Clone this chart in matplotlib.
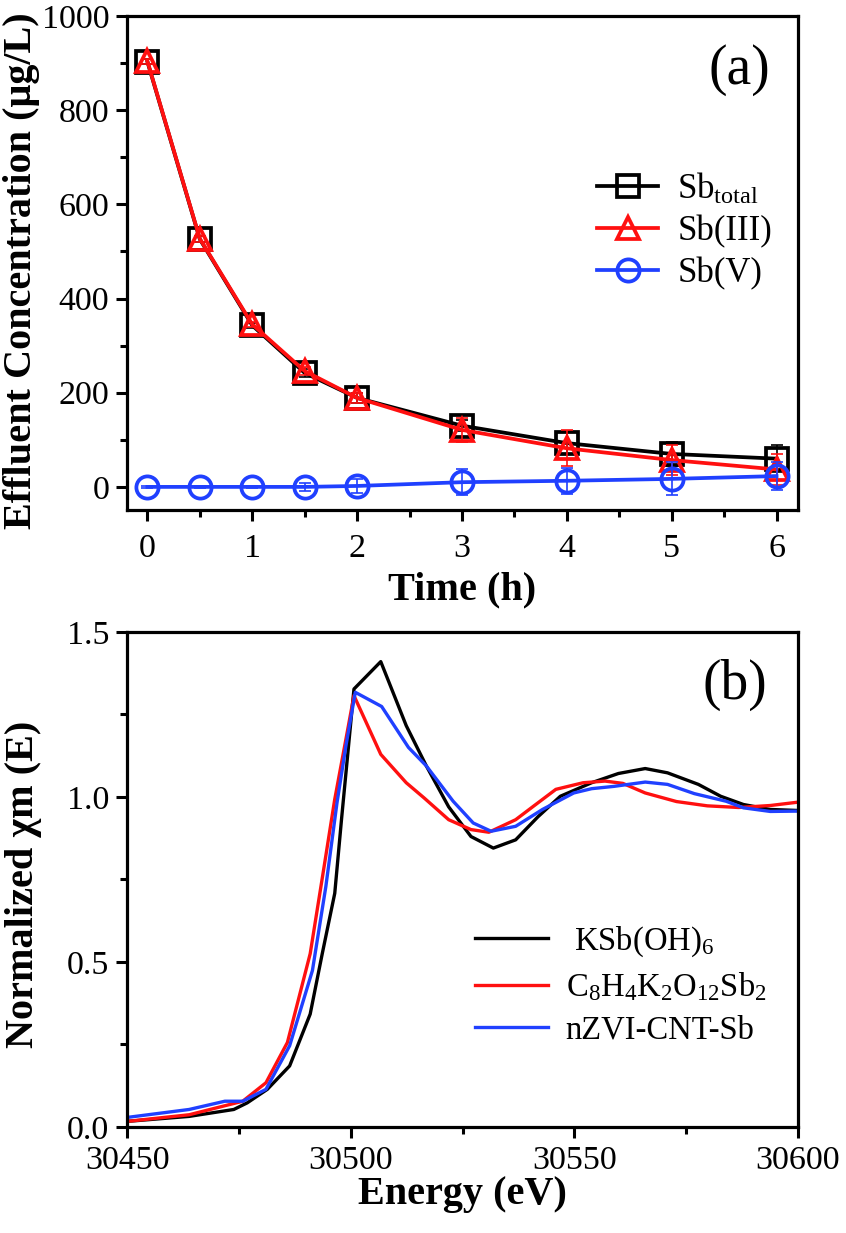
import matplotlib
matplotlib.use("Agg")
import matplotlib.pyplot as plt
import numpy as np

plt.rcParams['font.family'] = ['Liberation Serif', 'DejaVu Serif']
plt.rcParams['mathtext.fontset'] = 'custom'
plt.rcParams['mathtext.rm'] = 'Liberation Serif'
plt.rcParams['mathtext.it'] = 'Liberation Serif:italic'
plt.rcParams['mathtext.bf'] = 'Liberation Serif:bold'

# panel (a) data
time_h = [0, 0.5, 1, 1.5, 2, 3, 4, 5, 6]
sb_total = [903, 526, 343, 242, 189, 130, 93, 70, 60]
sb_total_err = [5, 6, 6, 8, 10, 12, 23, 25, 28]
sb_iii = [904, 527, 345, 246, 189, 121, 82, 57, 37]
sb_iii_err = [5, 6, 6, 8, 10, 26, 38, 32, 32]
sb_v = [0, 0, 0, 0, 2, 10, 13, 17, 23]
sb_v_err = [2, 2, 2, 8, 15, 28, 28, 35, 30]

# panel (b) data
e_ksb = [30450, 30463.8, 30473.8, 30476.8, 30481.3, 30486.3, 30490.9, 30493.6,
         30496.4, 30497.9, 30500.7, 30506.7, 30512.4, 30516.9, 30521.9, 30526.9,
         30531.9, 30536.9, 30541.9, 30546.9, 30553.9, 30559.9, 30565.9, 30570.9,
         30577.8, 30582.8, 30587.9, 30593.9, 30600]
y_ksb = [0.017, 0.032, 0.053, 0.073, 0.114, 0.185, 0.342, 0.525,
         0.708, 0.93, 1.327, 1.41, 1.216, 1.094, 0.97, 0.88,
         0.845, 0.87, 0.94, 1.002, 1.043, 1.071, 1.086, 1.073,
         1.038, 1.002, 0.977, 0.962, 0.959]

e_c8 = [30450, 30463.8, 30475.8, 30481.0, 30485.8, 30490.9, 30493.9, 30496.4,
        30498.9, 30500.7, 30506.7, 30512.4, 30516.4, 30521.9, 30526.9, 30530.9,
        30536.9, 30540.9, 30545.9, 30552.0, 30556.9, 30560.9, 30565.9, 30572.9,
        30579.8, 30586.8, 30593.9, 30600]
y_c8 = [0.017, 0.037, 0.078, 0.134, 0.256, 0.525, 0.779, 0.993,
        1.175, 1.307, 1.129, 1.043, 0.997, 0.931, 0.901, 0.893,
        0.931, 0.972, 1.023, 1.043, 1.048, 1.041, 1.012, 0.986,
        0.973, 0.968, 0.974, 0.984]

e_nzvi = [30450, 30463.8, 30471.8, 30475.8, 30481.0, 30486.3, 30491.4, 30494.4,
          30496.9, 30498.9, 30501.0, 30506.9, 30512.9, 30516.9, 30522.9, 30527.4,
          30531.4, 30536.9, 30542.9, 30549.9, 30553.9, 30558.9, 30565.9, 30570.9,
          30576.9, 30584.0, 30587.9, 30593.9, 30600]
y_nzvi = [0.029, 0.053, 0.078, 0.078, 0.114, 0.246, 0.474, 0.728,
          0.982, 1.155, 1.317, 1.274, 1.15, 1.094, 0.987, 0.921,
          0.896, 0.911, 0.962, 1.012, 1.025, 1.032, 1.045, 1.038,
          1.01, 0.987, 0.967, 0.956, 0.957]

RED = '#ff1010'
BLUE = '#2040ff'

fig = plt.figure(figsize=(8.46, 12.33), dpi=100)
ax1 = fig.add_axes([0.1507, 0.5864, 0.7920, 0.4006])
ax2 = fig.add_axes([0.1507, 0.0860, 0.7920, 0.4015])

lw = 2.7
ms = 16
for ys, err, col, mk, lab in [
        (sb_total, sb_total_err, 'black', 's', 'Sb$_{\\mathrm{total}}$'),
        (sb_iii, sb_iii_err, RED, '^', 'Sb(III)'),
        (sb_v, sb_v_err, BLUE, 'o', 'Sb(V)')]:
    ax1.plot(time_h, ys, color=col, lw=lw, marker=mk, ms=ms,
             mfc='none', mec=col, mew=2.7, label=lab)
    ax1.errorbar(time_h, ys, yerr=err, fmt='none', ecolor=col,
                 elinewidth=1.2, capsize=4, capthick=1.2)

ax1.set_xlim(-0.19, 6.2)
ax1.set_ylim(-49, 1000)
ax1.set_xticks(range(7))
ax1.set_xticks(np.arange(0.5, 6.5, 1), minor=True)
ax1.set_yticks(range(0, 1001, 200))
ax1.set_yticks(range(100, 1000, 200), minor=True)
ax1.set_xlabel('Time (h)', fontsize=29, fontweight='bold')
ax1.set_ylabel('Effluent Concentration (\u03bcg/L)', fontsize=29,
               fontweight='bold')
ax1.yaxis.set_label_coords(-0.131, 0.484)
ax1.xaxis.set_label_coords(0.5, -0.125)
ax1.text(0.913, 0.891, '(a)', transform=ax1.transAxes, fontsize=40,
         ha='center', va='center')
ax1.legend(loc='center left', bbox_to_anchor=(0.7007, 0.565), frameon=False,
           fontsize=25, handlelength=1.76, handletextpad=0.55,
           labelspacing=0.25, borderpad=0, borderaxespad=0)

ax2.plot(e_ksb, y_ksb, color='black', lw=2.4, label=' KSb(OH)$_6$')
ax2.plot(e_c8, y_c8, color=RED, lw=2.4,
         label='C$_8$H$_4$K$_2$O$_{12}$Sb$_2$')
ax2.plot(e_nzvi, y_nzvi, color=BLUE, lw=2.4, label='nZVI-CNT-Sb')
ax2.set_xlim(30450, 30600)
ax2.set_ylim(0, 1.5)
ax2.set_xticks(range(30450, 30601, 50))
ax2.set_xticks(range(30475, 30600, 50), minor=True)
ax2.set_yticks([0.0, 0.5, 1.0, 1.5])
ax2.set_yticks([0.25, 0.75, 1.25], minor=True)
ax2.set_yticklabels(['0.0', '0.5', '1.0', '1.5'])
ax2.set_xlabel('Energy (eV)', fontsize=29, fontweight='bold')
ax2.set_ylabel('Normalized \u03c7m (E)', fontsize=29, fontweight='bold')
ax2.yaxis.set_label_coords(-0.128, 0.491)
ax2.xaxis.set_label_coords(0.5, -0.1)
ax2.text(0.907, 0.893, '(b)', transform=ax2.transAxes, fontsize=40,
         ha='center', va='center')
ax2.legend(loc='center left', bbox_to_anchor=(0.5187, 0.287), frameon=False,
           fontsize=23.5, handlelength=2.25, handletextpad=0.53,
           labelspacing=0.35, borderpad=0, borderaxespad=0)

for ax in (ax1, ax2):
    for s in ax.spines.values():
        s.set_linewidth(2.3)
    ax.tick_params(which='both', direction='out', top=False, right=False,
                   labelsize=24.5, width=2.2, pad=5)
    ax.tick_params(which='major', length=8)
    ax.tick_params(which='minor', length=5)
ax1.tick_params(axis='x', which='both', pad=9)

fig.savefig('out.png', dpi=100)
